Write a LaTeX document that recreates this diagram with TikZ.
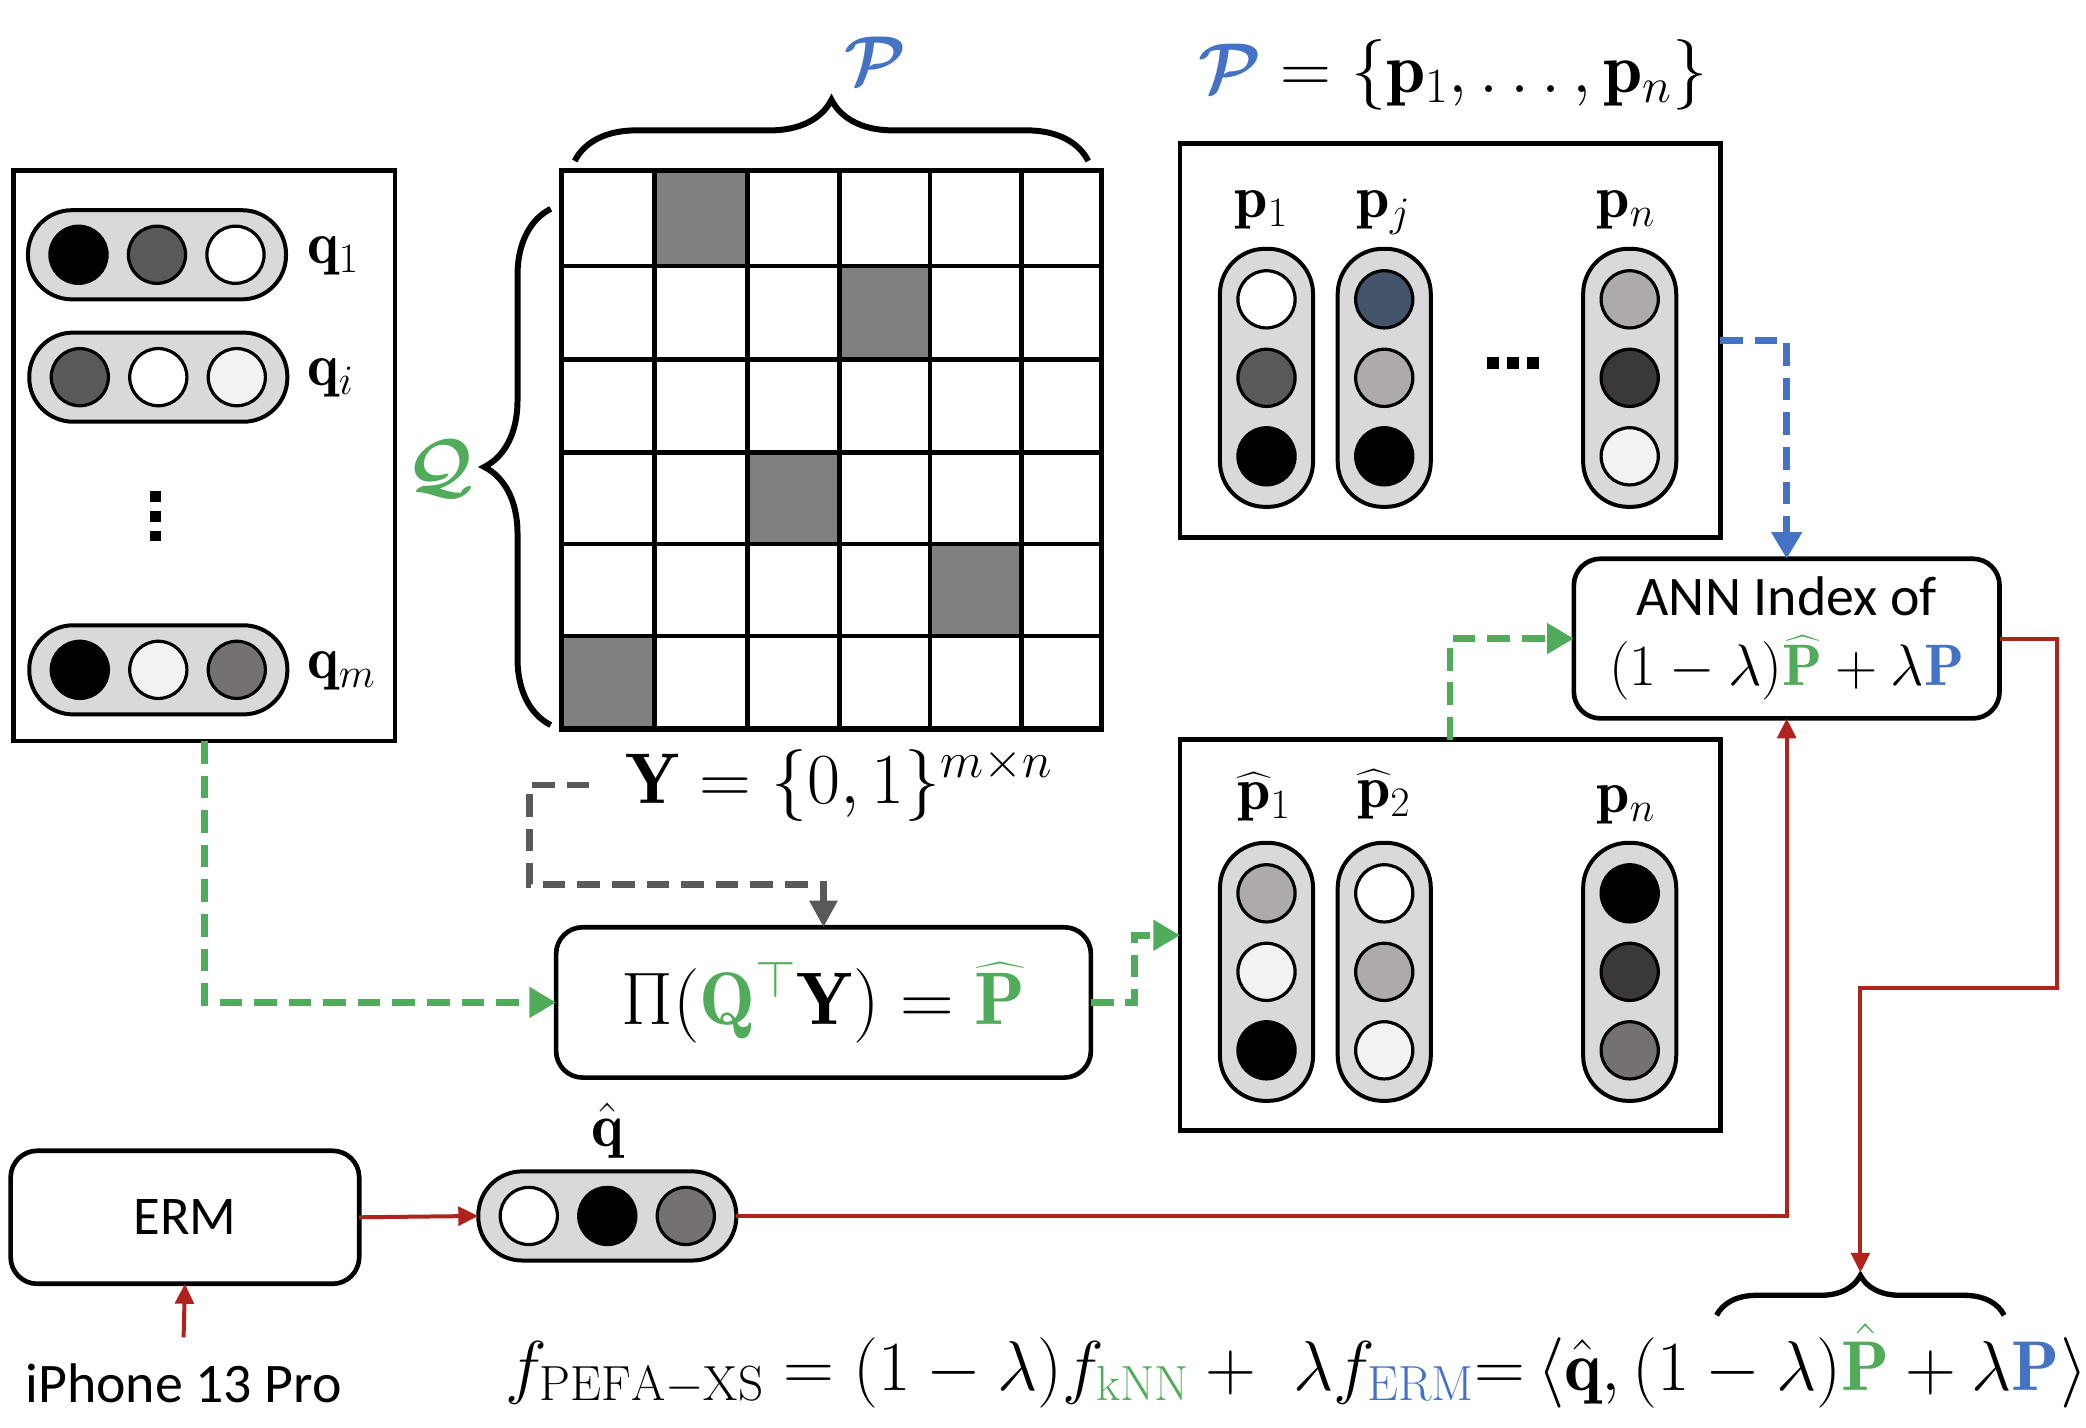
\RequirePackage{fix-cm}
\documentclass[tikz,border=0pt]{standalone}
\usepackage{amsmath}
\usepackage{fontspec}
\newfontfamily\calib{Carlito}
\usetikzlibrary{arrows.meta,decorations.pathreplacing,calc}
\definecolor{mgreen}{RGB}{80,172,90}
\definecolor{mblue}{RGB}{68,114,196}
\definecolor{mred}{RGB}{176,35,28}
\definecolor{mgray}{RGB}{89,89,89}
\definecolor{pillgray}{RGB}{217,217,217}
\definecolor{cellgray}{RGB}{128,128,128}
\definecolor{c2}{RGB}{89,89,89}
\definecolor{c4}{RGB}{242,242,242}
\definecolor{c5}{RGB}{118,113,113}
\definecolor{c6}{RGB}{68,84,106}
\definecolor{c7}{RGB}{174,170,170}
\definecolor{c8}{RGB}{58,56,56}
\newcommand{\fsz}[1]{\fontsize{#1pt}{#1pt}\selectfont}
\tikzset{
  every node/.style={inner sep=0pt, outer sep=0pt},
  sqbox/.style={rectangle, draw=black, line width=3.5pt, fill=white},
  rbox/.style={rectangle, draw=black, line width=3.5pt, rounded corners=20pt, fill=white},
  hpill/.style={rectangle, draw=black, line width=3pt, fill=pillgray, rounded corners=33pt, minimum width=194pt, minimum height=67pt},
  vpill/.style={rectangle, draw=black, line width=3pt, fill=pillgray, rounded corners=34pt, minimum width=70pt, minimum height=194pt},
  ball/.style={circle, draw=black, line width=2.4pt, minimum size=43pt, fill=#1},
  sqdot/.style={rectangle, fill=black, minimum size=8pt},
  gflow/.style={draw=mgreen, line width=5pt, dash pattern=on 17pt off 9pt, -{Triangle[length=20pt,width=22pt]}},
  bflow/.style={draw=mblue, line width=5pt, dash pattern=on 17pt off 9pt, -{Triangle[length=20pt,width=22pt]}},
  grflow/.style={draw=mgray, line width=5pt, dash pattern=on 17pt off 9pt, -{Triangle[length=20pt,width=20pt]}},
  rflow/.style={draw=mred, line width=3pt, -{Triangle[length=15pt,width=14pt]}},
  bigbrace/.style={decorate, decoration={brace, amplitude=#1}, line width=4.5pt},
  lab/.style={font=\fsz{45}},
}
\begin{document}
\begin{tikzpicture}[x=1pt,y=-1pt]
\useasboundingbox (0,0) rectangle (1568,1073);

% ---------- left Q box ----------
\node[sqbox, minimum width=287pt, minimum height=429pt] (qbox) at (153.5,342.5) {};
\node[hpill] (q1) at (118,191.5) {};
\node[hpill] (qi) at (119,283.5) {};
\node[hpill] (qm) at (119,503.5) {};
\foreach \c [count=\i] in {black,c2,white}
  \node[ball=\c] (q1-\i) at ($(q1)+({\i*59-118},0)$) {};
\foreach \c [count=\i] in {c2,white,c4}
  \node[ball=\c] (qi-\i) at ($(qi)+({\i*59-118},0)$) {};
\foreach \c [count=\i] in {black,c4,c5}
  \node[ball=\c] (qm-\i) at ($(qm)+({\i*59-118},0)$) {};
\node[lab, anchor=west] (lq1) at (231,192) {$\mathbf{q}_1$};
\node[lab, anchor=west] (lqi) at (231,284) {$\mathbf{q}_i$};
\node[lab, anchor=west] (lqm) at (231,504) {$\mathbf{q}_m$};
\node[sqdot] (vd1) at (117,373) {};
\node[sqdot] (vd2) at (117,388) {};
\node[sqdot] (vd3) at (117,403) {};

% ---------- grid Y ----------
\fill[cellgray] (492,128) rectangle (562,200);
\fill[cellgray] (631,200) rectangle (699,270);
\fill[cellgray] (562,340) rectangle (631,409);
\fill[cellgray] (699,409) rectangle (768,478);
\fill[cellgray] (422,478) rectangle (492,548);
\foreach \x in {492,562,631,699,768} \draw[line width=3.5pt] (\x,128) -- (\x,548);
\foreach \y in {200,270,340,409,478} \draw[line width=3.5pt] (422,\y) -- (828,\y);
\draw[line width=4pt] (422,128) rectangle (828,548);
\draw[bigbrace=46pt] (432,121) -- (818,121);
\draw[bigbrace=50pt] (414,545) -- (414,157);
\node[font=\fsz{52}, text=mblue] (calP) at (658,46) {$\boldsymbol{\mathcal{P}}$};
\node[font=\fsz{54}, text=mgreen] (calQ) at (331,352) {$\boldsymbol{\mathcal{Q}}$};
\node[font=\fsz{54}, anchor=west] (yform) at (470,590) {$\mathbf{Y} = \{0,1\}^{m\times n}$};

% ---------- Pi box ----------
\node[rbox, minimum width=402pt, minimum height=113pt, font=\fsz{56}] (pibox) at (619,753.5)
  {$\Pi(\textcolor{mgreen}{\mathbf{Q}^{\top}}\mathbf{Y}) = \textcolor{mgreen}{\widehat{\mathbf{P}}}$};

% ---------- P box (top right) ----------
\node[font=\fsz{53}] (pset) at (1092,56) {$\textcolor{mblue}{\boldsymbol{\mathcal{P}}} = \{\mathbf{p}_1,\ldots,\mathbf{p}_n\}$};
\node[sqbox, minimum width=406pt, minimum height=296pt] (pbox) at (1090,256) {};
\node[vpill] (p1) at (952,284) {};
\node[vpill] (pj) at (1040.5,284) {};
\node[vpill] (pn) at (1225,284) {};
\foreach \c [count=\i] in {white,c2,black}
  \node[ball=\c] (p1-\i) at ($(p1)+(0,{\i*59-118})$) {};
\foreach \c [count=\i] in {c6,c7,black}
  \node[ball=\c] (pj-\i) at ($(pj)+(0,{\i*59-118})$) {};
\foreach \c [count=\i] in {c7,c8,c4}
  \node[ball=\c] (pn-\i) at ($(pn)+(0,{\i*59-118})$) {};
\node[lab] (lp1) at (948,158) {$\mathbf{p}_1$};
\node[lab] (lpj) at (1040,160) {$\mathbf{p}_j$};
\node[lab] (lpn) at (1222,158) {$\mathbf{p}_n$};
\node[sqdot, minimum size=9pt] (hd1) at (1122,273) {};
\node[sqdot, minimum size=9pt] (hd2) at (1137,273) {};
\node[sqdot, minimum size=9pt] (hd3) at (1152,273) {};

% ---------- P-hat box ----------
\node[sqbox, minimum width=406pt, minimum height=294pt] (phatbox) at (1090,703) {};
\node[vpill] (h1) at (952,730.5) {};
\node[vpill] (h2) at (1040.5,730.5) {};
\node[vpill] (hn) at (1225,730.5) {};
\foreach \c [count=\i] in {c7,c4,black}
  \node[ball=\c] (h1-\i) at ($(h1)+(0,{\i*59-118})$) {};
\foreach \c [count=\i] in {white,c7,c4}
  \node[ball=\c] (h2-\i) at ($(h2)+(0,{\i*59-118})$) {};
\foreach \c [count=\i] in {black,c8,c5}
  \node[ball=\c] (hn-\i) at ($(hn)+(0,{\i*59-118})$) {};
\node[lab] (lh1) at (950,599) {$\widehat{\mathbf{p}}_1$};
\node[lab] (lh2) at (1040,597) {$\widehat{\mathbf{p}}_2$};
\node[lab] (lhn) at (1222,605) {$\mathbf{p}_n$};

% ---------- ANN box ----------
\node[rbox, minimum width=320pt, minimum height=120pt, align=center, font=\fontsize{44pt}{53pt}\selectfont] (ann) at (1343,480)
  {{\calib\fontsize{42pt}{53pt}\selectfont ANN Index of}\\
   $(1-\lambda)\textcolor{mgreen}{\widehat{\mathbf{P}}}+\lambda\textcolor{mblue}{\mathbf{P}}$};

% ---------- ERM and q-hat ----------
\node[rbox, minimum width=262pt, minimum height=100pt, font=\calib\fsz{41}] (erm) at (139,915) {ERM};
\node[font=\calib\fsz{42}] (iphone) at (138,1040) {iPhone 13 Pro};
\node[hpill] (qh) at (456.5,914) {};
\foreach \c [count=\i] in {white,black,c5}
  \node[ball=\c] (qh-\i) at ($(qh)+({\i*59-118},0)$) {};
\node[font=\fsz{46}] (lqh) at (457,850) {$\hat{\mathbf{q}}$};

% ---------- bottom formula ----------
\node[font=\fsz{53}, anchor=base west] (fA) at (380,1045)
  {$f_{\mathrm{PEFA{-}XS}} = (1-\lambda)f_{\textcolor{mgreen}{\mathrm{kNN}}} + \ \lambda f_{\textcolor{mblue}{\mathrm{ERM}}}\mathord{=}\,\langle \hat{\mathbf{q}},$};
\node[font=\fsz{53}, anchor=base west] (fB) at (fA.base east)
  {$\,(1-\lambda)\textcolor{mgreen}{\hat{\mathbf{P}}} + \lambda\textcolor{mblue}{\mathbf{P}}$};
\node[font=\fsz{53}, anchor=base west] (fC) at (fB.base east) {$\rangle$};
\coordinate (bl) at ($(fB.north west)+(72,-6)$);
\coordinate (br) at ($(fB.north east)+(-42,-6)$);
\draw[bigbrace=30pt, line width=4pt] (bl) -- (br);
\coordinate (bt) at ($(bl)!0.5!(br)+(0,-32)$);

% ---------- connectors ----------
\draw[gflow] (qbox.south) |- (pibox.west);
\draw[gflow] (pibox.east) -- ++(33,0) |- (phatbox.west);
\draw[gflow] (phatbox.north) |- (ann.west);
\draw[bflow] (pbox.east) -| (ann.north);
\draw[grflow] ([xshift=-27pt]yform.west) -- ++(-45,0) -- ++(0,75) -| (pibox.north);
\draw[rflow] (ann.east) -- ++(43,0) -- ++(0,263) -| (bt);
\draw[rflow] (qh.east) -| (ann.south);
\draw[rflow] (erm.east) -- (qh.west);
\draw[rflow] ([yshift=20pt]iphone.north) -- (erm.south);
\end{tikzpicture}
\end{document}
